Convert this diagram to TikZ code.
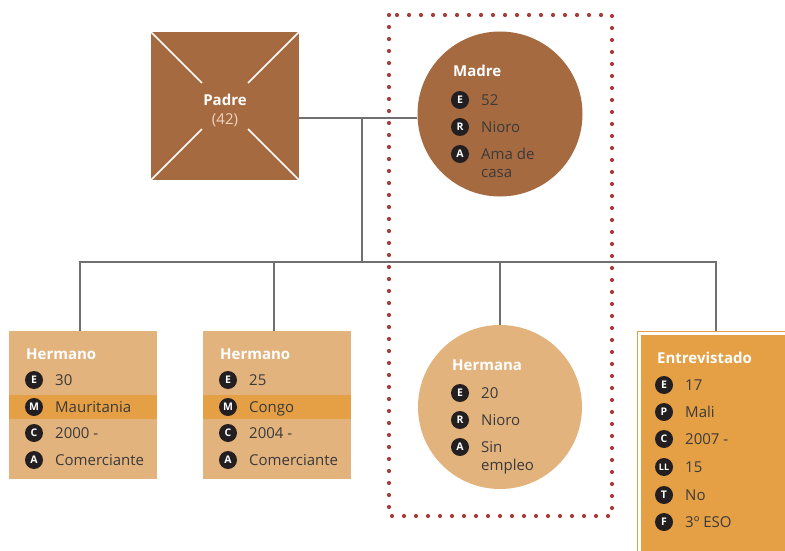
\documentclass[tikz,border=0pt]{standalone}
\usepackage{fontspec}
\setmainfont{Open Sans}
\usetikzlibrary{calc}
\usepackage{xcolor}
\definecolor{brownpar}{RGB}{166,106,64}
\definecolor{tanfam}{RGB}{227,179,126}
\definecolor{orangeent}{RGB}{229,160,70}
\definecolor{badgeblack}{RGB}{35,31,32}
\definecolor{textgray}{RGB}{58,58,58}
\definecolor{dotred}{RGB}{168,62,60}
\definecolor{linegray}{RGB}{112,112,112}
\definecolor{agepink}{RGB}{238,212,194}
\tikzset{
  badge/.style={circle,fill=badgeblack,text=white,inner sep=0pt,minimum size=18pt,
    font=\bfseries\fontsize{10.5}{11}\selectfont},
  item/.style={anchor=base west,inner sep=0pt,text=textgray,
    font=\fontsize{15}{18}\selectfont},
  title/.style={anchor=base west,inner sep=0pt,text=white,font=\bfseries\fontsize{15}{18}\selectfont},
  link/.style={draw=linegray,line width=1.2pt},
  famcard/.style={rectangle,fill=tanfam,minimum width=148pt,minimum height=148pt,inner sep=0pt}
}
\newcommand{\fila}[5]{% name x y letter text
  \node[badge] (#1-b) at (#2,#3) {#4};
  \node[item] (#1) at (#2+21,#3+5.4) {#5};
}
\newcommand{\doslin}[2]{\vtop{\hbox{#1}\hbox{#2}}}

\begin{document}
\begin{tikzpicture}[x=1pt,y=-1pt]
  \useasboundingbox (0,0) rectangle (785,551);
  % padre
  \node[rectangle,fill=brownpar,minimum size=148pt,inner sep=0pt] (padre) at (225,106) {};
  \foreach \c in {north west,north east,south west,south east}
    \draw[white,line width=1.6pt] (padre.\c) -- ($(padre.\c)!0.69!(padre.center)$);
  \node[align=center,text=white,font=\fontsize{15}{19}\selectfont] (padre-txt) at (225,110)
    {\textbf{Padre}\\{\color{agepink}(42)}};
  % madre
  \node[circle,fill=brownpar,minimum size=165pt,inner sep=0pt] (madre) at (500,114) {};
  \node[title] (madre-t) at (453,77) {Madre};
  \fila{madre-e}{460}{100}{E}{52}
  \fila{madre-r}{460}{127}{R}{Nioro}
  \fila{madre-a}{460}{154}{A}{\doslin{Ama de}{casa}}
  % hijos
  \node[famcard] (hermanoA) at (83,405) {};
  \fill[orangeent] (9,395) rectangle (157,419);
  \node[title] (hermanoA-t) at (26,359) {Hermano};
  \fila{hermanoA-e}{34}{380}{E}{30}
  \fila{hermanoA-m}{34}{407}{M}{Mauritania}
  \fila{hermanoA-c}{34}{433}{C}{2000 -}
  \fila{hermanoA-a}{34}{460}{A}{Comerciante}
  \node[famcard] (hermanoB) at (277,405) {};
  \fill[orangeent] (203,395) rectangle (351,419);
  \node[title] (hermanoB-t) at (220,359) {Hermano};
  \fila{hermanoB-e}{228}{380}{E}{25}
  \fila{hermanoB-m}{228}{407}{M}{Congo}
  \fila{hermanoB-c}{228}{433}{C}{2004 -}
  \fila{hermanoB-a}{228}{460}{A}{Comerciante}
  \node[circle,fill=tanfam,minimum size=164pt,inner sep=0pt] (hermana) at (500,407) {};
  \node[title] (hermana-t) at (452,370) {Hermana};
  \fila{hermana-e}{460}{393}{E}{20}
  \fila{hermana-r}{460}{420}{R}{Nioro}
  \fila{hermana-a}{460}{447}{A}{\doslin{Sin}{empleo}}
  \node[rectangle,fill=orangeent,draw=orangeent,double=white,double distance=3pt,line width=1pt,
    minimum width=153pt,minimum height=235pt,inner sep=0pt] (entrevistado) at (716,451) {};
  \node[title] (entrevistado-t) at (657,363) {Entrevistado};
  \fila{entrevistado-e}{664}{385}{E}{17}
  \fila{entrevistado-p}{664}{412}{P}{Mali}
  \fila{entrevistado-c}{664}{439}{C}{2007 -}
  \fila{entrevistado-ll}{664}{467}{\fontsize{9}{9}\selectfont LL}{15}
  \fila{entrevistado-t2}{664}{495}{T}{No}
  \fila{entrevistado-f}{664}{522}{F}{3º ESO}
  % lineas
  \coordinate (pm) at (362,118);
  \coordinate (bar) at (362,262);
  \draw[link] (padre.east |- pm) -- (madre.west |- pm);
  \draw[link] (pm) -- (bar);
  \draw[link] ([xshift=-3pt]hermanoA.north) -- ([xshift=-3pt]hermanoA.north |- bar)
    -- (entrevistado.north |- bar) -- ([yshift=2.5pt]entrevistado.north);
  \draw[link] ([xshift=-3pt]hermanoB.north) -- ([xshift=-3pt]hermanoB.north |- bar);
  \draw[link] (hermana.north) -- (hermana.north |- bar);
  % recuadro punteado
  \draw[dotred,line width=4.2pt,line cap=round,dash pattern=on 0pt off 12pt] (389,15) rectangle (612,516);
\end{tikzpicture}
\end{document}
